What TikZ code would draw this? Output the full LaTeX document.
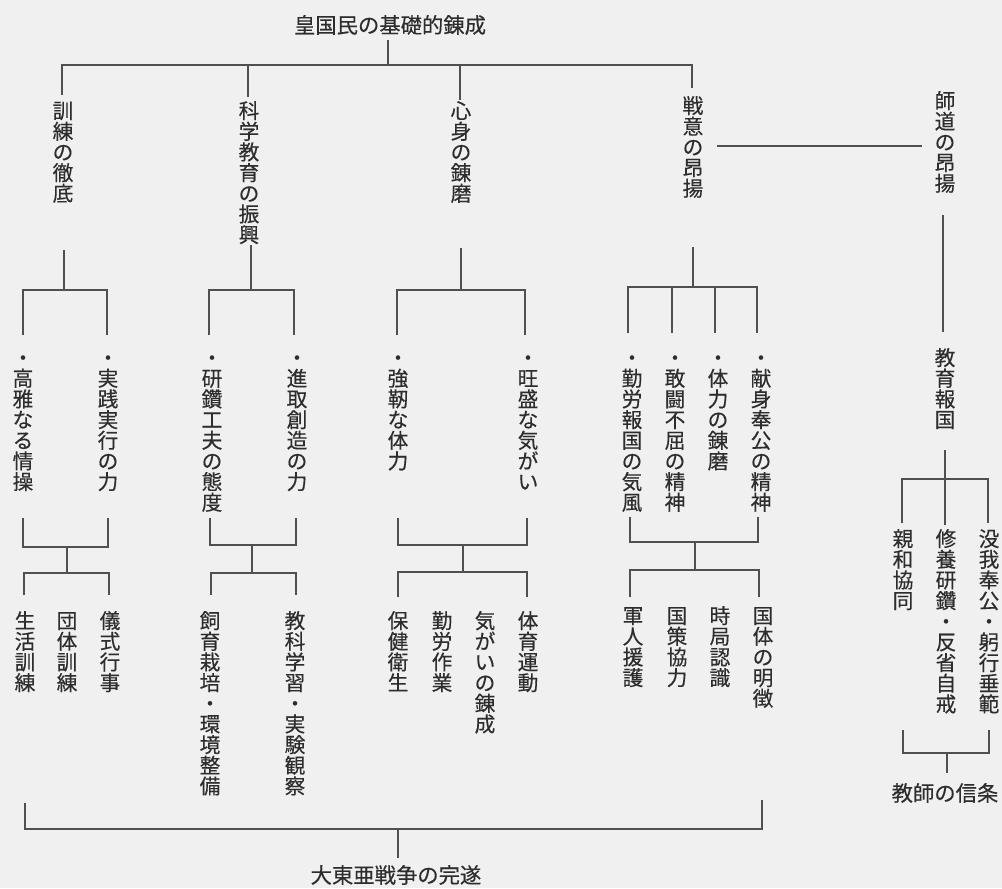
\documentclass[tikz,border=0pt]{standalone}
\usepackage{fontspec}
\newfontfamily\cjk[FakeBold=0.35]{Noto Sans CJK JP}
\definecolor{bgc}{RGB}{239,240,239}
\definecolor{txtc}{RGB}{45,45,45}
\definecolor{linec}{RGB}{80,80,80}
\makeatletter
\newlength\vtstep
\setlength\vtstep{15.5pt}
\newcommand\vtext[1]{\vbox{\offinterlineskip\@tfor\vt@c:=#1\do{\hbox to\vtstep{\hss\vrule width0pt height0.88\vtstep depth0.12\vtstep\relax\vt@c\hss}}}}
\makeatother
\begin{document}
\begin{tikzpicture}[x=0.75pt,y=-0.75pt,
  vt/.style={inner sep=0pt, anchor=north, text=txtc, font=\cjk\fontsize{15.5pt}{15.5pt}\selectfont},
  ht/.style={inner sep=0pt, text=txtc, font=\cjk\fontsize{16pt}{16pt}\selectfont},
  ln/.style={draw=linec, line width=0.8pt}]
\fill[bgc] (0,0) rectangle (1002,888);
\useasboundingbox (0,0) rectangle (1002,888);

% ---- text nodes ----
\node[ht] (root) at (390,25) {皇国民の基礎的錬成};
\node[vt] (k1) at (63,100) {\vtext{訓練の徹底}};
\node[vt] (k2) at (249,100) {\vtext{科学教育の振興}};
\node[vt] (k3) at (461,100) {\vtext{心身の錬磨}};
\node[vt] (k4) at (693,95) {\vtext{戦意の昂揚}};
\node[vt] (k5) at (945,90) {\vtext{師道の昂揚}};
\node[vt] (k6) at (945,347) {\vtext{教育報国}};

\node[vt] (a1) at (23,347) {\vtext{・高雅なる情操}};
\node[vt] (a2) at (108,347) {\vtext{・実践実行の力}};
\node[vt] (b1) at (212,347) {\vtext{・研鑽工夫の態度}};
\node[vt] (b2) at (297,347) {\vtext{・進取創造の力}};
\node[vt] (c1) at (398,347) {\vtext{・強靭な体力}};
\node[vt] (c2) at (528,347) {\vtext{・旺盛な気がい}};
\node[vt] (d1) at (632,347) {\vtext{・勤労報国の気風}};
\node[vt] (d2) at (675,347) {\vtext{・敢闘不屈の精神}};
\node[vt] (d3) at (718,347) {\vtext{・体力の錬磨}};
\node[vt] (d4) at (761,347) {\vtext{・献身奉公の精神}};
\node[vt] (e1) at (903,528) {\vtext{親和協同}};
\node[vt] (e2) at (946,528) {\vtext{修養研鑽・反省自戒}};
\node[vt] (e3) at (989,528) {\vtext{没我奉公・躬行垂範}};

\node[vt] (f1) at (25,610) {\vtext{生活訓練}};
\node[vt] (f2) at (67,610) {\vtext{団体訓練}};
\node[vt] (f3) at (110,610) {\vtext{儀式行事}};
\node[vt] (g1) at (210,610) {\vtext{飼育栽培・環境整備}};
\node[vt] (g2) at (295,610) {\vtext{教科学習・実験観察}};
\node[vt] (h1) at (398,610) {\vtext{保健衛生}};
\node[vt] (h2) at (442,610) {\vtext{勤労作業}};
\node[vt] (h3) at (485,610) {\vtext{気がいの錬成}};
\node[vt] (h4) at (528,610) {\vtext{体育運動}};
\node[vt] (i1) at (633,605) {\vtext{軍人援護}};
\node[vt] (i2) at (677,605) {\vtext{国策協力}};
\node[vt] (i3) at (720,605) {\vtext{時局認識}};
\node[vt] (i4) at (763,605) {\vtext{国体の明徴}};
\node[ht] (cred) at (945,793) {教師の信条};
\node[ht] (goal) at (396,875) {大東亜戦争の完遂};

% ---- junction coordinates ----
\path (388,40) coordinate (r0) (388,65) coordinate (r1)
      (62,65) coordinate (rL) (692,65) coordinate (rR)
      (62,95) coordinate (k1u) (248,65) coordinate (k2h) (248,97) coordinate (k2u)
      (460,65) coordinate (k3h) (460,100) coordinate (k3u) (692,88) coordinate (k4u)
      (717,146) coordinate (s0) (922,146) coordinate (s1)
      (943,215) coordinate (t0) (943,332) coordinate (t1)
      (945,450) coordinate (u0) (945,525) coordinate (u1)
      (902,479) coordinate (uL) (988,479) coordinate (uR)
      (902,523) coordinate (uLd) (988,523) coordinate (uRd)
      (903,730) coordinate (v0) (903,753) coordinate (v1) (989,753) coordinate (v2) (989,730) coordinate (v3)
      (947,753) coordinate (vC) (947,773) coordinate (vD);
% group A
\path (64,250) coordinate (A0) (64,290) coordinate (A1)
      (23,290) coordinate (AL) (107,290) coordinate (AR)
      (23,335) coordinate (ALd) (107,335) coordinate (ARd)
      (23,518) coordinate (B0) (23,547) coordinate (B1) (108,547) coordinate (B2) (108,518) coordinate (B3)
      (67,547) coordinate (BC) (67,573) coordinate (BD)
      (24,573) coordinate (BL) (109,573) coordinate (BR)
      (24,595) coordinate (BLd) (109,595) coordinate (BRd);
% group B
\path (251,245) coordinate (C0) (251,290) coordinate (C1)
      (209,290) coordinate (CL) (294,290) coordinate (CR)
      (209,335) coordinate (CLd) (294,335) coordinate (CRd)
      (210,518) coordinate (D0) (210,545) coordinate (D1) (296,545) coordinate (D2) (296,518) coordinate (D3)
      (252,545) coordinate (DC) (252,573) coordinate (DD)
      (211,573) coordinate (DL) (296,573) coordinate (DR)
      (211,595) coordinate (DLd) (296,595) coordinate (DRd);
% group C
\path (461,248) coordinate (E0) (461,290) coordinate (E1)
      (397,290) coordinate (EL) (525,290) coordinate (ER)
      (397,335) coordinate (ELd) (525,335) coordinate (ERd)
      (398,518) coordinate (F0) (398,545) coordinate (F1) (527,545) coordinate (F2) (527,518) coordinate (F3)
      (463,545) coordinate (FC) (463,572) coordinate (FD)
      (398,572) coordinate (FL) (527,572) coordinate (FR)
      (398,597) coordinate (FLd) (527,597) coordinate (FRd);
% group D
\path (693,247) coordinate (G0) (693,287) coordinate (G1)
      (628,287) coordinate (GL) (757,287) coordinate (GR)
      (672,287) coordinate (G2) (715,287) coordinate (G3)
      (628,333) coordinate (GLd) (757,333) coordinate (GRd)
      (672,333) coordinate (G2d) (715,333) coordinate (G3d)
      (630,517) coordinate (H0) (630,542) coordinate (H1) (758,542) coordinate (H2) (758,517) coordinate (H3)
      (695,542) coordinate (HC) (695,570) coordinate (HD)
      (630,570) coordinate (HL) (759,570) coordinate (HR)
      (630,597) coordinate (HLd) (759,597) coordinate (HRd);
% bottom
\path (25,803) coordinate (Z0) (25,829) coordinate (Z1) (762,829) coordinate (Z2) (762,800) coordinate (Z3)
      (398,829) coordinate (ZC) (398,858) coordinate (ZD);

% ---- connectors ----
\draw[ln] (r0) -- (r1);
\draw[ln] (k1u) -- (rL) -- (rR) -- (k4u);
\draw[ln] (k2h) -- (k2u);
\draw[ln] (k3h) -- (k3u);
\draw[ln] (s0) -- (s1);
\draw[ln] (t0) -- (t1);
\draw[ln] (u0) -- (u1);
\draw[ln] (uLd) -- (uL) -- (uR) -- (uRd);
\draw[ln] (v0) -- (v1) -- (v2) -- (v3);
\draw[ln] (vC) -- (vD);

\draw[ln] (A0) -- (A1);
\draw[ln] (ALd) -- (AL) -- (AR) -- (ARd);
\draw[ln] (B0) -- (B1) -- (B2) -- (B3);
\draw[ln] (BC) -- (BD);
\draw[ln] (BLd) -- (BL) -- (BR) -- (BRd);

\draw[ln] (C0) -- (C1);
\draw[ln] (CLd) -- (CL) -- (CR) -- (CRd);
\draw[ln] (D0) -- (D1) -- (D2) -- (D3);
\draw[ln] (DC) -- (DD);
\draw[ln] (DLd) -- (DL) -- (DR) -- (DRd);

\draw[ln] (E0) -- (E1);
\draw[ln] (ELd) -- (EL) -- (ER) -- (ERd);
\draw[ln] (F0) -- (F1) -- (F2) -- (F3);
\draw[ln] (FC) -- (FD);
\draw[ln] (FLd) -- (FL) -- (FR) -- (FRd);

\draw[ln] (G0) -- (G1);
\draw[ln] (GLd) -- (GL) -- (GR) -- (GRd);
\draw[ln] (G2) -- (G2d);
\draw[ln] (G3) -- (G3d);
\draw[ln] (H0) -- (H1) -- (H2) -- (H3);
\draw[ln] (HC) -- (HD);
\draw[ln] (HLd) -- (HL) -- (HR) -- (HRd);

\draw[ln] (Z0) -- (Z1) -- (Z2) -- (Z3);
\draw[ln] (ZC) -- (ZD);
\end{tikzpicture}
\end{document}
